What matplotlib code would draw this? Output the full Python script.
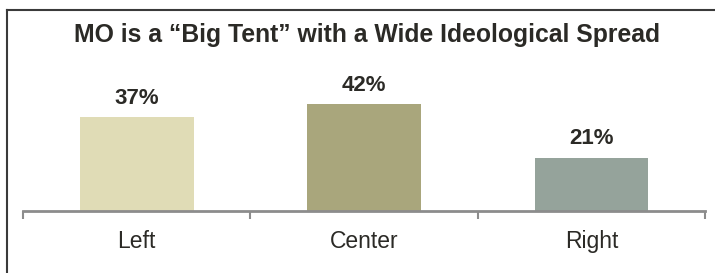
import matplotlib
matplotlib.use("Agg")
import matplotlib.pyplot as plt
from matplotlib.lines import Line2D

categories = ["Left", "Center", "Right"]
values = [37, 42, 21]
labels = ["37%", "42%", "21%"]
colors = ["#E0DCB6", "#A9A67C", "#95A39B"]
title = "MO is a \u201cBig Tent\u201d with a Wide Ideological Spread"

fam = "Liberation Sans"
txt_color = "#2B2A26"

W, H = 715, 273
fig = plt.figure(figsize=(W / 100, H / 100), dpi=100)
fig.patch.set_facecolor("white")

ax_left, ax_right = 23 / W, 705 / W
ax_bottom = 1 - 211 / H
ax_top = 1 - 84 / H
ax = fig.add_axes([ax_left, ax_bottom, ax_right - ax_left, ax_top - ax_bottom])
ax.set_xlim(-0.5, 2.5)
ax.set_ylim(0, 50)

x = list(range(len(categories)))
ax.bar(x, values, width=0.5, color=colors, zorder=2)
for xi, v, lab in zip(x, values, labels):
    ax.annotate(lab, (xi, v), xytext=(0, 9.5), textcoords="offset points",
                ha="center", va="baseline", fontsize=16, fontweight="bold",
                color=txt_color, family=fam)

for s in ["top", "right", "left"]:
    ax.spines[s].set_visible(False)
ax.spines["bottom"].set_color("#8C8C8C")
ax.spines["bottom"].set_linewidth(2)
ax.spines["bottom"].set_zorder(3)
ax.set_yticks([])
ax.set_xticks([-0.5, 0.5, 1.5, 2.5])
ax.set_xticklabels([])
ax.tick_params(axis="x", which="major", direction="out", length=6, width=1.5, color="#8C8C8C")
ax.set_xticks(x, minor=True)
ax.set_xticklabels(categories, minor=True, fontsize=16.5, color=txt_color, family=fam)
ax.tick_params(axis="x", which="minor", length=0, pad=14)

fig.text(367 / W, 1 - 42 / H, title, ha="center", va="baseline", fontsize=17.8,
         fontweight="bold", color=txt_color, family=fam)

# outer frame (left and top edges visible)
fig.add_artist(Line2D([7 / W, 7 / W], [0, 1 - 10 / H], transform=fig.transFigure,
                      color="#3A3A3A", linewidth=1.5))
fig.add_artist(Line2D([7 / W, 1], [1 - 10 / H, 1 - 10 / H], transform=fig.transFigure,
                      color="#3A3A3A", linewidth=1.5))

fig.savefig("out.png", dpi=100, facecolor="white")
